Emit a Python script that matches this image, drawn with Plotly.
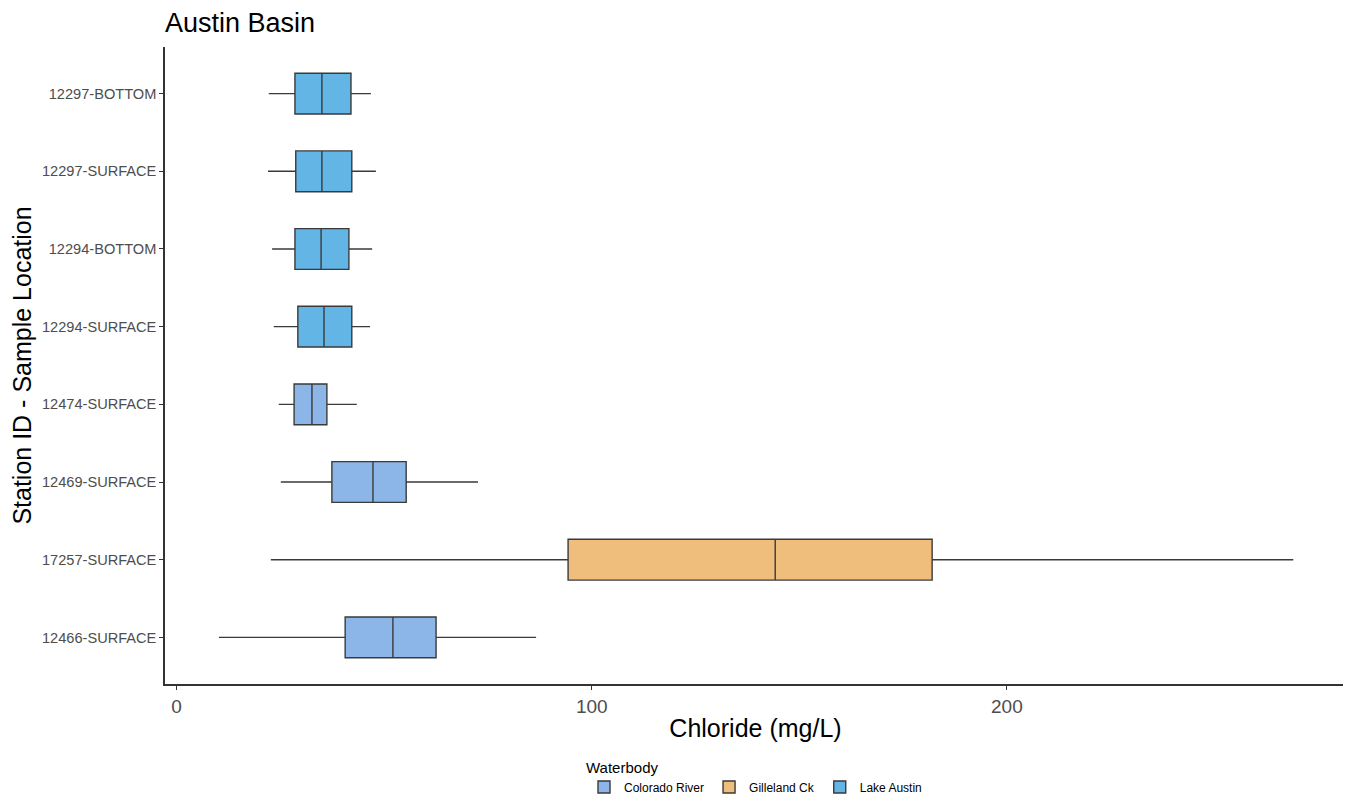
import plotly.graph_objects as go

# Category order bottom -> top
stations = ["12466-SURFACE", "17257-SURFACE", "12469-SURFACE", "12474-SURFACE",
            "12294-SURFACE", "12294-BOTTOM", "12297-SURFACE", "12297-BOTTOM"]
waterbody = ["Colorado River", "Gilleland Ck", "Colorado River", "Colorado River",
             "Lake Austin", "Lake Austin", "Lake Austin", "Lake Austin"]
lower = [10.2, 22.7, 25.1, 24.6, 23.4, 23.0, 22.0, 22.2]
q1 = [40.6, 94.3, 37.4, 28.3, 29.2, 28.5, 28.7, 28.5]
median = [52.1, 144.2, 47.3, 32.6, 35.5, 34.8, 35.0, 35.0]
q3 = [62.5, 182.0, 55.3, 36.2, 42.2, 41.5, 42.2, 42.0]
upper = [86.6, 269.0, 72.6, 43.4, 46.6, 47.1, 48.0, 46.8]

groups = ["Colorado River", "Gilleland Ck", "Lake Austin"]
colors = {"Colorado River": "#8DB6E8", "Gilleland Ck": "#EFBE7D", "Lake Austin": "#62B5E5"}

FONT = "Liberation Sans, Arial, sans-serif"

fig = go.Figure()
for g in groups:
    idx = [i for i, w in enumerate(waterbody) if w == g]
    fig.add_trace(go.Box(
        name=g,
        orientation="h",
        y=[stations[i] for i in idx],
        q1=[q1[i] for i in idx],
        median=[median[i] for i in idx],
        q3=[q3[i] for i in idx],
        lowerfence=[lower[i] for i in idx],
        upperfence=[upper[i] for i in idx],
        fillcolor=colors[g],
        line=dict(color="#3a3a3a", width=1.4),
        whiskerwidth=0,
        boxpoints=False,
        hoverinfo="x+y",
    ))

W, H = 1343, 789  # page body has 8px margin
fig.update_layout(
    width=W, height=H,
    paper_bgcolor="white", plot_bgcolor="white",
    margin=dict(l=157, r=5, t=39, b=113, autoexpand=False),
    boxmode="overlay", boxgap=0.25,
    font=dict(family=FONT, color="#4D4D4D"),
    title=dict(text="Austin Basin", x=157/W, xanchor="left", xref="container",
               y=1 - 15/H, yanchor="middle",
               font=dict(size=27, color="black", family=FONT)),
    xaxis=dict(range=[-2.8, 281.7], tickvals=[0, 100, 200], ticktext=["0", "100", "200"],
               showgrid=False, zeroline=False, showline=True, linecolor="#333333", linewidth=1.5,
               ticks="outside", ticklen=4, tickcolor="#333333", tickwidth=1,
               tickfont=dict(size=19, color="#4D4D4D"),
               title=dict(text="Chloride (mg/L)", font=dict(size=25, color="black"), standoff=4)),
    yaxis=dict(categoryorder="array", categoryarray=stations, range=[-0.6, 7.6],
               showgrid=False, zeroline=False, showline=True, linecolor="#333333", linewidth=1.5,
               ticks="outside", ticklen=4, tickcolor="#333333", tickwidth=1,
               tickfont=dict(size=14.6, color="#4D4D4D"),
               title=dict(text="Station ID - Sample Location", font=dict(size=25, color="black"), standoff=4)),
    legend=dict(orientation="h", x=0.5, xanchor="center",
                yref="container", y=1 - 745/H, yanchor="top",
                title=dict(text="Waterbody", side="top", font=dict(size=15, color="black")),
                font=dict(size=12, color="black"), itemwidth=30),
)

fig.write_html("out.html")
